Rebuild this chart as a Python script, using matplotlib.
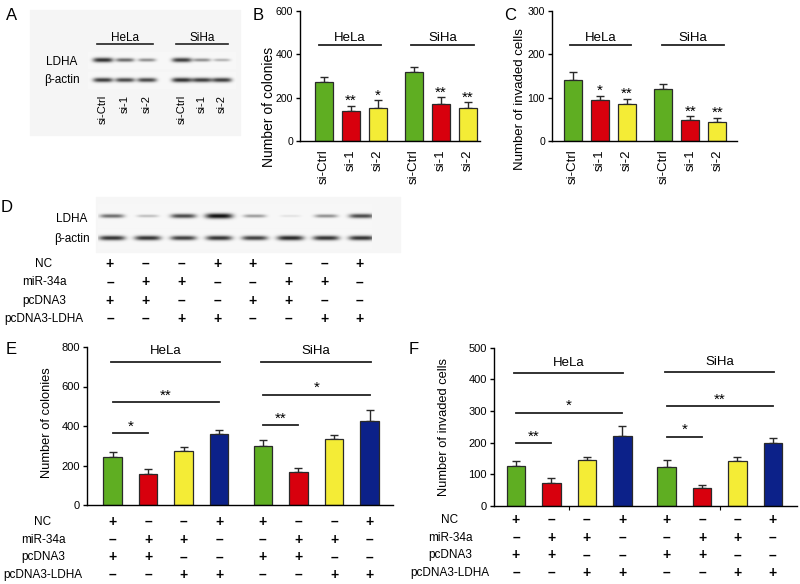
import numpy as np
import matplotlib
matplotlib.use("Agg")
import matplotlib.pyplot as plt
from matplotlib import transforms
from matplotlib.patches import Rectangle

# --------------------------------------------------------------------------- #
# Data
# --------------------------------------------------------------------------- #
cell_lines = ["HeLa", "SiHa"]
si_labels = ["si-Ctrl", "si-1", "si-2"]

# panel B: colony formation after LDHA knock-down
colonies_si = [274, 140, 153, 318, 172, 153]
colonies_si_err = [20, 23, 35, 22, 31, 26]
colonies_si_sig = ["", "**", "*", "", "**", "**"]

# panel C: invasion after LDHA knock-down
invaded_si = [141, 94, 85, 120, 49, 44]
invaded_si_err = [18, 10, 13, 12, 8, 10]
invaded_si_sig = ["", "*", "**", "", "**", "**"]

# rescue design (panels D-F), one string per row, 8 lanes
treat_rows = ["NC", "miR-34a", "pcDNA3", "pcDNA3-LDHA"]
treat_signs = ["+--++--+", "-++--++-", "++--++--", "--++--++"]

# panel E: colonies, rescue
colonies_rescue = [242, 158, 275, 361, 300, 168, 334, 427]
colonies_rescue_err = [24, 23, 18, 20, 30, 18, 19, 53]
colonies_cmp = [(0, 1, 364, "*"), (0, 3, 519, "**"), (4, 5, 403, "**"), (4, 7, 558, "*")]

# panel F: invaded cells, rescue
invaded_rescue = [126, 74, 145, 221, 124, 58, 143, 200]
invaded_rescue_err = [16, 13, 11, 32, 21, 8, 11, 14]
invaded_cmp = [(0, 1, 198, "**"), (0, 3, 294, "*"), (4, 5, 219, "*"), (4, 7, 315, "**")]

# western blot band strengths (0 = none, 1 = saturated)
ldha_si = [0.85, 0.6, 0.45, 0.8, 0.45, 0.3]
actin_si = [0.8, 0.75, 0.75, 0.85, 0.8, 0.8]
ldha_rescue = [0.6, 0.25, 0.75, 1.0, 0.4, 0.1, 0.45, 0.75]
actin_rescue = [0.85, 0.85, 0.8, 0.85, 0.8, 0.9, 0.85, 0.85]

# --------------------------------------------------------------------------- #
GREEN, RED, YELLOW, BLUE = "#5fae22", "#d8000d", "#f4ec36", "#0c2189"
EDGE = "#2a2a2a"
W, H = 800, 584

plt.rcParams.update({
    "font.family": ["Liberation Sans", "DejaVu Sans"],
    "font.size": 8,
    "axes.spines.top": False, "axes.spines.right": False,
    "axes.linewidth": 1.0,
    "ytick.major.size": 3, "ytick.major.width": 1.0,
})

fig = plt.figure(figsize=(W / 100, H / 100), dpi=100)

# overlay in pixel coordinates for blots, row labels and panel letters
ov = fig.add_axes([0, 0, 1, 1])
ov.set_xlim(0, W)
ov.set_ylim(H, 0)
ov.axis("off")


def px_axes(left, top, right, bottom):
    return fig.add_axes([left / W, 1 - bottom / H, (right - left) / W, (bottom - top) / H],
                        facecolor="none")


def blot(lanes, strengths, y, half_w, x0, x1, y0, y1, bg=0.97):
    xs = np.linspace(x0, x1, int((x1 - x0) * 4))
    ys = np.linspace(y0, y1, int((y1 - y0) * 4))
    X, Y = np.meshgrid(xs, ys)
    dark = np.zeros_like(X)
    for lx, s in zip(lanes, strengths):
        sig = 1.0 + 1.6 * s
        hw = half_w * (0.75 + 0.3 * s)
        dark += s * np.exp(-(np.abs(X - lx) / hw) ** 4) * np.exp(-((Y - y) / sig) ** 2)
    img = bg - np.clip(dark, 0, 1) * (bg - 0.05)
    ov.imshow(img, extent=(x0, x1, y1, y0), cmap="gray", vmin=0, vmax=1,
              interpolation="bilinear", aspect="auto", zorder=1)


def bar_panel(ax, pos, vals, errs, colors, width):
    ax.bar(pos, vals, width=width, color=colors, edgecolor=EDGE, linewidth=0.9, zorder=2)
    ax.errorbar(pos, vals, yerr=[np.zeros(len(errs)), errs], fmt="none",
                ecolor=EDGE, elinewidth=1.0, capsize=3, capthick=1.0, zorder=1)


def heading(ax, x0, x1, y, text, gap):
    ax.plot([x0, x1], [y, y], color="#222222", lw=1.3, clip_on=False)
    ax.annotate(text, ((x0 + x1) / 2, y), xytext=(0, gap), textcoords="offset points",
                ha="center", va="baseline", fontsize=9.5)


# --------------------------------------------------------------------------- #
# Panel A: blot
ov.add_patch(Rectangle((30, 10), 210, 125, color="#f5f5f5", zorder=0))
lanes_a = [103, 125, 147, 182, 202, 222]
blot(lanes_a, ldha_si, 60, 10, 88, 236, 52, 69)
blot(lanes_a, actin_si, 80, 10, 88, 236, 72, 89)
ov.text(62, 62, "LDHA", ha="center", va="center", fontsize=8.5)
ov.text(62, 80, "β-actin", ha="center", va="center", fontsize=8.5)
for k, name in enumerate(cell_lines):
    xs = lanes_a[3 * k:3 * k + 3]
    ov.plot([xs[0] - 6, xs[-1] + 6], [44, 44], color="#222222", lw=1.2)
    ov.text((xs[0] + xs[-1]) / 2, 41, name, ha="center", va="baseline", fontsize=8.5)
for x, lab in zip(lanes_a, si_labels * 2):
    ov.text(x, 95, lab, rotation=90, ha="center", va="top", fontsize=8)

# --------------------------------------------------------------------------- #
# Panels B and C
si_colors = [GREEN, RED, YELLOW] * 2
si_pos = np.array([0, 1, 2, 3.34, 4.34, 5.34])

axb = px_axes(300, 11, 480, 141)
bar_panel(axb, si_pos, colonies_si, colonies_si_err, si_colors, 0.67)
axb.set_xlim(-0.89, 5.78)
axb.set_ylim(0, 600)
axb.set_yticks([0, 200, 400, 600])
heading(axb, si_pos[0] - 0.2, si_pos[2] + 0.1, 442, "HeLa", 3)
heading(axb, si_pos[3] - 0.1, si_pos[5] + 0.2, 442, "SiHa", 3)
axb.set_ylabel("Number of colonies", fontsize=10)
axb.yaxis.set_label_coords(-0.135, 0.26)

axc = px_axes(552, 11, 737, 141)
bar_panel(axc, si_pos, invaded_si, invaded_si_err, si_colors, 0.67)
axc.set_xlim(-0.78, 6.07)
axc.set_ylim(0, 300)
axc.set_yticks([0, 100, 200, 300])
heading(axc, si_pos[0] - 0.1, si_pos[2] + 0.15, 221, "HeLa", 3)
heading(axc, si_pos[3] - 0.05, si_pos[5] + 0.25, 221, "SiHa", 3)
axc.set_ylabel("Number of invaded cells", fontsize=9.5)
axc.yaxis.set_label_coords(-0.14, 0.32)

for ax, vals, errs, sig in [(axb, colonies_si, colonies_si_err, colonies_si_sig),
                            (axc, invaded_si, invaded_si_err, invaded_si_sig)]:
    for x, v, e, s in zip(si_pos, vals, errs, sig):
        if s:
            ax.annotate(s, (x, v + e), xytext=(0, 0.5), textcoords="offset points",
                        ha="center", va="baseline", fontsize=11)
    ax.set_xticks(si_pos)
    ax.set_xticklabels(si_labels * 2, rotation=90, fontsize=9.5)
    ax.tick_params(axis="x", length=0, pad=6)
    ax.tick_params(axis="y", labelsize=7.6, pad=2)

# --------------------------------------------------------------------------- #
# Panel D: blot + design table
ov.add_patch(Rectangle((96, 197), 304, 55, color="#f6f6f6", zorder=0))
lanes_d = 110 + 35.7 * np.arange(8)
blot(lanes_d + 2, ldha_rescue, 216, 13, 98, 372, 204, 228)
blot(lanes_d + 2, actin_rescue, 238, 13, 98, 372, 229, 249)
ov.text(72, 219, "LDHA", ha="center", va="center", fontsize=8.5)
ov.text(72, 239, "β-actin", ha="center", va="center", fontsize=8.5)


def sign_text(s):
    return "+" if s == "+" else "–"


for row, (lab, signs) in enumerate(zip(treat_rows, treat_signs)):
    y = 264 + 18.3 * row
    ov.text(44, y, lab, ha="center", va="center", fontsize=8.5)
    for x, s in zip(lanes_d, signs):
        ov.text(x, y, sign_text(s), ha="center", va="center", fontsize=10, fontweight="bold")

# --------------------------------------------------------------------------- #
# Panels E and F
rescue_colors = [GREEN, RED, YELLOW, BLUE] * 2


def rescue_panel(ax, gap, vals, errs, cmp, ymax, step, head_y, label, lab_xy,
                 rows_y, rows_label_x, head_gap):
    pos = np.array([0, 1, 2, 3, 3 + gap, 4 + gap, 5 + gap, 6 + gap])
    bar_panel(ax, pos, vals, errs, rescue_colors, 0.52)
    ax.set_ylim(0, ymax)
    ax.set_yticks(np.arange(0, ymax + 1, step))
    ax.tick_params(axis="y", labelsize=8, pad=2)
    for i, j, y, s in cmp:
        ax.plot([pos[i], pos[j]], [y, y], color="#222222", lw=1.3)
        ax.annotate(s, ((pos[i] + pos[j]) / 2, y), xytext=(0, 2), textcoords="offset points",
                    ha="center", va="baseline", fontsize=11)
    for k, name in enumerate(cell_lines):
        heading(ax, pos[4 * k] - 0.05, pos[4 * k + 3] + 0.03, head_y[k], name, head_gap)
    ax.set_ylabel(label, fontsize=9.3)
    ax.yaxis.set_label_coords(*lab_xy)
    trans = transforms.blended_transform_factory(ax.transData, ov.transData)
    for row, (lab, signs) in enumerate(zip(treat_rows, treat_signs)):
        y = rows_y[0] + (rows_y[1] - rows_y[0]) * row / 3
        ov.text(rows_label_x, y, lab, ha="center", va="center", fontsize=8.5)
        for x, s in zip(pos, signs):
            fig.text(x, y, sign_text(s), transform=trans, ha="center", va="center",
                     fontsize=10, fontweight="bold")
    return pos


axe = px_axes(87, 347, 393, 505)
pos_e = rescue_panel(axe, 1.23, colonies_rescue, colonies_rescue_err, colonies_cmp,
                     800, 200, [724, 724], "Number of colonies", (-0.11, 0.52),
                     (522, 575), 43, 5.5)
axe.set_xlim(-0.72, 7.89)
axe.set_xticks([])

axf = px_axes(494, 347.5, 797, 506)
pos_f = rescue_panel(axf, 1.25, invaded_rescue, invaded_rescue_err, invaded_cmp,
                     500, 100, [419, 422], "Number of invaded cells", (-0.145, 0.50),
                     (520, 573), 450, 5)
axf.set_xlim(-0.62, 7.93)
axf.set_xticks([(pos_f[1] + pos_f[2]) / 2, (pos_f[5] + pos_f[6]) / 2])
axf.set_xticklabels([])
axf.tick_params(axis="x", length=3)

# --------------------------------------------------------------------------- #
for letter, x, y in [("A", 12, 15), ("B", 258, 15), ("C", 510, 15),
                     ("D", 7, 208), ("E", 11, 350), ("F", 414, 349)]:
    ov.text(x, y, letter, ha="center", va="center", fontsize=12)

fig.savefig("out.png", dpi=100)
